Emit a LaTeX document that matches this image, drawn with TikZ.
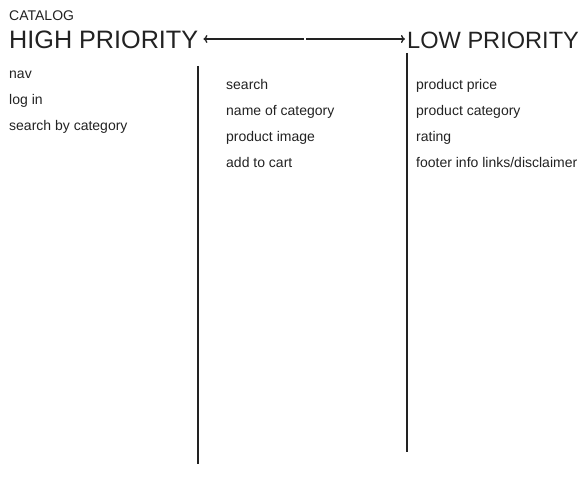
\documentclass[tikz,border=0pt]{standalone}
\usepackage{fontspec}
\setmainfont{Liberation Sans}
\usetikzlibrary{arrows.meta}
\definecolor{ink}{HTML}{222222}
\begin{document}
\begin{tikzpicture}[x=1pt, y=-1pt]
\tikzstyle{every node}=[anchor=base west, inner sep=0pt, text=ink, font=\fontsize{14}{16}\selectfont];
\tikzstyle{title}=[font=\fontsize{25.2}{28}\selectfont];
\tikzstyle{lowtitle}=[font=\fontsize{23.6}{28}\selectfont];
\tikzstyle{divider}=[draw=ink, line width=2pt];
\tikzstyle{priority arrow}=[draw=ink, line width=1.3pt, -{To[length=4pt, width=8pt]}];
\useasboundingbox (0,0) rectangle (587,489);
% headings
\node (cat) at (9, 21) {CATALOG};
\node[title] (high) at (9, 49) {HIGH PRIORITY};
\node[lowtitle] (low) at (407, 49) {LOW PRIORITY};
% the priority arrow
\coordinate (mid) at (305, 39);
\draw[priority arrow] (mid) ++(-1,0) -- ([xshift=5pt]high.east |- mid);
\draw[priority arrow] (mid) ++(1,0) -- ([xshift=-2pt]low.west |- mid);
% dividers
\coordinate (d1top) at (198, 66);
\coordinate (d1bot) at (198, 464);
\coordinate (d2top) at (407, 53);
\coordinate (d2bot) at (407, 452);
\draw[divider] (d1top) -- (d1bot);
\draw[divider] (d2top) -- (d2bot);
% high column
\node (h1) at (9, 79) {nav};
\node (h2) at (9, 105) {log in};
\node (h3) at (9, 131) {search by category};
% middle column
\node (m1) at (226, 90) {search};
\node (m2) at (226, 116) {name of category};
\node (m3) at (226, 142) {product image};
\node (m4) at (226, 168) {add to cart};
% low column
\node (l1) at (416, 90) {product price};
\node (l2) at (416, 116) {product category};
\node (l3) at (416, 142) {rating};
\node (l4) at (416, 168) {footer info links/disclaimer};
\end{tikzpicture}
\end{document}
